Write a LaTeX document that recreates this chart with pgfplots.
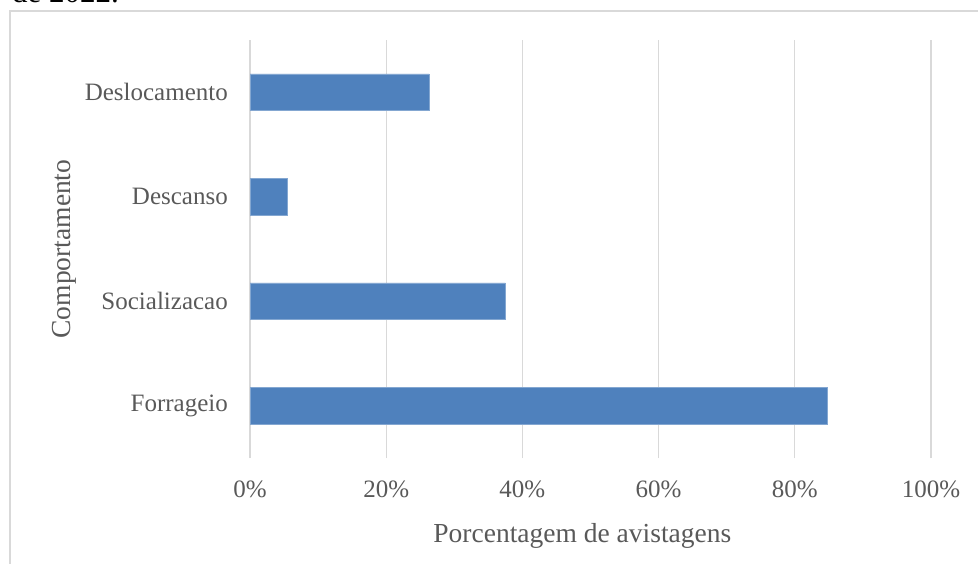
\documentclass[border=0pt]{standalone}
\usepackage{fontspec}
\setmainfont{Liberation Serif}
\usepackage{pgfplots}
\pgfplotsset{compat=1.18}
\definecolor{barblue}{RGB}{79,129,189}
\definecolor{txt}{RGB}{89,89,89}
\definecolor{gridc}{RGB}{217,217,217}
\begin{document}
\begin{tikzpicture}
\useasboundingbox (0bp,0bp) rectangle (978bp,564bp);
\draw[gridc, line width=1.2bp] (10bp,0bp) -- (10bp,553bp) -- (978bp,553bp);
\node[anchor=base west, inner sep=0pt, font=\fontsize{31bp}{36bp}\selectfont] at (12bp,561bp) {de 2022.};
\begin{axis}[
  at={(250bp,106bp)}, anchor=south west,
  scale only axis, width=681bp, height=418bp,
  xmin=0, xmax=100, ymin=-0.5, ymax=3.5,
  xtick={0,20,40,60,80,100},
  xticklabels={0\%,20\%,40\%,60\%,80\%,100\%},
  ytick={0,1,2,3},
  yticklabels={Forrageio,Socializacao,Descanso,Deslocamento},
  xmajorgrids, major grid style={gridc, line width=1.2bp},
  axis line style={draw=none},
  major tick length=0pt,
  tick label style={font=\fontsize{25bp}{30bp}\selectfont, text=txt, inner sep=0pt},
  xticklabel shift=23bp, yticklabel shift=22bp,
  label style={font=\fontsize{27.5bp}{33bp}\selectfont, text=txt},
  xlabel={Porcentagem de avistagens},
  ylabel={Comportamento},
  xlabel style={at={(axis description cs:0.488,-0.2033)}, anchor=base, inner sep=0pt},
  ylabel style={at={(axis description cs:-0.2643,0.5)}, anchor=base, inner sep=0pt},
  xbar, bar width=36.6bp,
  clip=false,
]
\addplot[fill=barblue, draw=barblue!70!white, line width=0.6bp] coordinates {(84.7,0) (37.5,1) (5.5,2) (26.3,3)};
\end{axis}
\end{tikzpicture}
\end{document}
